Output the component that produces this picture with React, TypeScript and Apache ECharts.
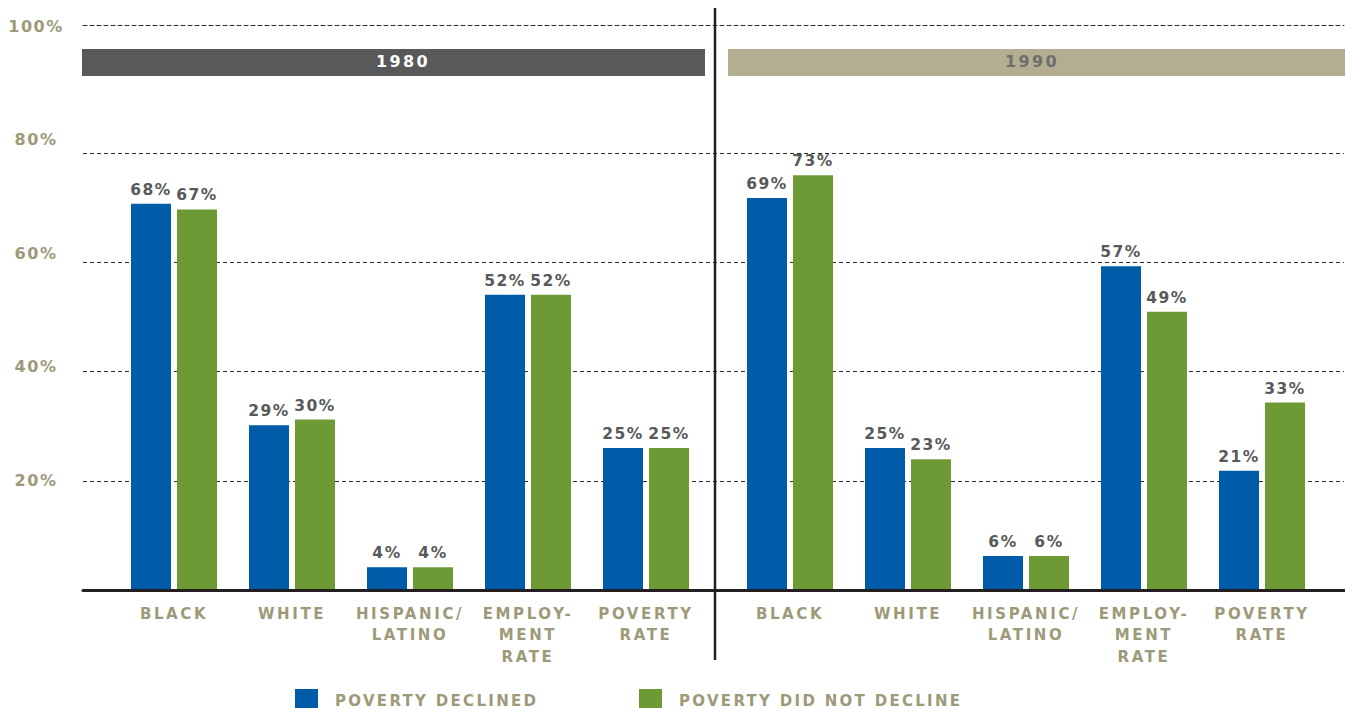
import React, { useEffect, useRef } from "react";
import * as echarts from "echarts";

const categories = ["BLACK", "WHITE", "HISPANIC/\nLATINO", "EMPLOY-\nMENT\nRATE", "POVERTY\nRATE"];
const declined1980 = [68, 29, 4, 52, 25];
const notDeclined1980 = [67, 30, 4, 52, 25];
const declined1990 = [69, 25, 6, 57, 21];
const notDeclined1990 = [73, 23, 6, 49, 33];
const seriesNames = ["POVERTY DECLINED", "POVERTY DID NOT DECLINE"];
const panelTitles = ["1980", "1990"];
const yTicks = [0, 20, 40, 60, 80, 100];

const BLUE = "#005ba9";
const GREEN = "#6e9a36";
const KHAKI = "#9d9a7a";
const DARK = "#58595b";
const FONT = "DejaVu Sans";

function applySpacing(root: HTMLElement) {
  root.querySelectorAll("text").forEach((t) => {
    const s = (t.textContent || "").trim();
    let ls = 2.6;
    if (s.includes("%")) ls = 1.5;
    else if (/^\d{4}$/.test(s)) ls = 2.4;
    else if (s.startsWith("POVERTY ")) ls = 2.3;
    t.setAttribute("letter-spacing", ls + "px");
  });
}

export default function App() {
  const ref = useRef<HTMLDivElement>(null);
  useEffect(() => {
    if (!ref.current) return;
    const chart = echarts.init(ref.current, undefined, { renderer: "svg" });
    const hiddenAxis = (gridIndex: number, type: string, extra: any = {}) => ({
      type,
      gridIndex,
      axisLine: { show: false },
      axisTick: { show: false },
      axisLabel: { show: false },
      splitLine: { show: false },
      ...extra,
    });
    const catAxis = (gridIndex: number) => ({
      type: "category",
      gridIndex,
      data: categories,
      axisLine: { show: false },
      axisTick: { show: false },
      axisLabel: {
        color: KHAKI,
        fontFamily: FONT,
        fontWeight: "bold",
        fontSize: 15,
        lineHeight: 21.5,
        margin: 13,
        interval: 0,
      },
    });
    const valAxis = (gridIndex: number) =>
      hiddenAxis(gridIndex, "value", { min: yTicks[0], max: yTicks[yTicks.length - 1], interval: 20 });
    const barLabel = {
      show: true,
      position: "top",
      distance: 6,
      formatter: "{c}%",
      color: DARK,
      fontFamily: FONT,
      fontWeight: "bold",
      fontSize: 15.5,
    };
    const bar = (name: string, data: number[], color: string, idx: number) => ({
      type: "bar",
      name,
      data,
      xAxisIndex: idx,
      yAxisIndex: idx,
      barWidth: 40,
      barGap: "15%",
      itemStyle: { color },
      label: barLabel,
      z: 3,
    });
    const legendCommon = {
      orient: "horizontal",
      top: 689,
      padding: 0,
      itemWidth: 23,
      itemHeight: 23,
      icon: "rect",
      selectedMode: false,
      textStyle: {
        color: KHAKI,
        fontFamily: FONT,
        fontWeight: "bold",
        fontSize: 15,
        padding: [0, 0, 3, 12],
      },
    };
    chart.setOption({
      animation: false,
      grid: [
        { left: 115, width: 590, top: 22, height: 568 },
        { left: 731, width: 590, top: 22, height: 568 },
        { left: 83, right: 1, top: 153, height: 437 },
        { left: 83, right: 1, top: 25, height: 565 },
        { left: 115, width: 590, top: 26, height: 568 },
      ],
      xAxis: [
        catAxis(0),
        catAxis(1),
        hiddenAxis(2, "value", { min: 0, max: 1 }),
        {
          type: "value",
          gridIndex: 3,
          position: "top",
          min: 0,
          max: 1,
          axisLine: { show: true, onZero: false, lineStyle: { color: "#2b2b2b", width: 1, type: [4, 3] } },
          axisTick: { show: false },
          axisLabel: { show: false },
          splitLine: { show: false },
        },
        {
          type: "value",
          gridIndex: 3,
          position: "bottom",
          min: 0,
          max: 1,
          z: 10,
          axisLine: { show: true, onZero: false, lineStyle: { color: "#231f20", width: 3 } },
          axisTick: { show: false },
          axisLabel: { show: false },
          splitLine: { show: false },
        },
        hiddenAxis(4, "value", { min: 0, max: 1 }),
      ],
      yAxis: [
        valAxis(0),
        valAxis(1),
        hiddenAxis(2, "value", {
          min: 0,
          max: 80,
          interval: 20,
          splitLine: { show: true, lineStyle: { color: "#2b2b2b", width: 1, type: [4, 3] } },
        }),
        hiddenAxis(3, "value", { min: 0, max: 1 }),
        {
          type: "value",
          gridIndex: 4,
          min: yTicks[0],
          max: yTicks[yTicks.length - 1],
          interval: 20,
          axisLine: { show: false },
          axisTick: { show: false },
          splitLine: { show: false },
          axisLabel: {
            formatter: (v: number) => (v === 0 ? "" : v + "%"),
            color: KHAKI,
            fontFamily: FONT,
            fontWeight: "bold",
            fontSize: 16,
            align: "center",
            margin: 79,
          },
        },
      ],
      legend: [
        { ...legendCommon, left: 295, data: [seriesNames[0]] },
        { ...legendCommon, left: 639, data: [seriesNames[1]] },
      ],
      graphic: [
        { type: "rect", left: 82, top: 49, shape: { width: 623, height: 27 }, style: { fill: "#58595b" }, z: 5 },
        { type: "rect", left: 728, top: 49, shape: { width: 617, height: 27 }, style: { fill: "#b3ae91" }, z: 5 },
        {
          type: "text", x: 403, y: 61, z: 6,
          style: { text: panelTitles[0], fill: "#ffffff", font: `bold 16px "${FONT}"`, align: "center", verticalAlign: "middle" },
        },
        {
          type: "text", x: 1032, y: 61, z: 6,
          style: { text: panelTitles[1], fill: "#6d6e70", font: `bold 16px "${FONT}"`, align: "center", verticalAlign: "middle" },
        },
        {
          type: "line", z: 20,
          shape: { x1: 715, y1: 8, x2: 715, y2: 660 },
          style: { stroke: "#231f20", lineWidth: 2.5 },
        },
      ],
      series: [
        bar(seriesNames[0], declined1980, BLUE, 0),
        bar(seriesNames[1], notDeclined1980, GREEN, 0),
        bar(seriesNames[0], declined1990, BLUE, 1),
        bar(seriesNames[1], notDeclined1990, GREEN, 1),
      ],
    });
    const el = ref.current;
    applySpacing(el);
    const raf = requestAnimationFrame(() => applySpacing(el));
    const to = setTimeout(() => applySpacing(el), 50);
    chart.on("finished", () => applySpacing(el));
    return () => {
      cancelAnimationFrame(raf);
      clearTimeout(to);
      chart.dispose();
    };
  }, []);
  return (
    <div
      ref={ref}
      style={{ position: "absolute", left: 0, top: 0, width: 1345, height: 708, background: "#ffffff" }}
    />
  );
}
